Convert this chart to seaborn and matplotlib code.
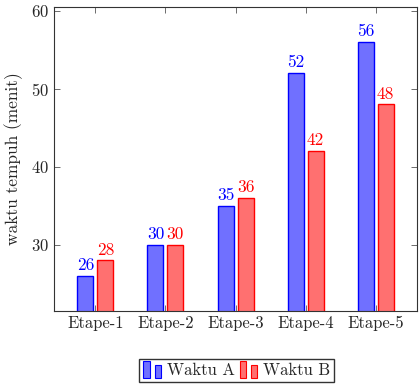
import pandas as pd
import matplotlib.pyplot as plt
import seaborn as sns
from matplotlib.patches import Rectangle
from matplotlib.legend_handler import HandlerBase

# data
etape = ['Etape-1', 'Etape-2', 'Etape-3', 'Etape-4', 'Etape-5']
waktu_a = [26, 30, 35, 52, 56]
waktu_b = [28, 30, 36, 42, 48]

df = pd.DataFrame({
    'etape': etape * 2,
    'waktu': waktu_a + waktu_b,
    'seri': ['Waktu A'] * 5 + ['Waktu B'] * 5,
})

sns.set_style('ticks')
plt.rcParams['font.family'] = ['cmr10', 'DejaVu Serif']
plt.rcParams['axes.formatter.use_mathtext'] = True
plt.rcParams['mathtext.fontset'] = 'cm'

fills = {'Waktu A': '#7070ff', 'Waktu B': '#ff7070'}
edges = ['#0000ff', '#ff0000']

fig = plt.figure(figsize=(4.2, 3.87), dpi=100)
ax = fig.add_axes([0.1286, 0.196, 0.8644, 0.786])

sns.barplot(data=df, x='etape', y='waktu', hue='seri', palette=fills,
            width=0.57, gap=0.2, saturation=1, legend=False, ax=ax)

for cont, ec in zip(ax.containers, edges):
    for p in cont:
        p.set_edgecolor(ec)
        p.set_linewidth(1.0)
    ax.bar_label(cont, color=ec, fontsize=12.5, padding=2)

ax.set_xlim(-0.59, 4.59)
ax.set_ylim(21.5, 60.5)
ax.set_yticks([30, 40, 50, 60])
ax.set_xlabel('')
ax.set_ylabel('waktu tempuh (menit)', fontsize=12.5, labelpad=6)
ax.tick_params(direction='in', top=True, right=True, length=4, width=0.6,
               color='#555555', labelsize=12)
for s in ax.spines.values():
    s.set_visible(True)
    s.set_color('#333333')
    s.set_linewidth(0.8)


class TwoBars(HandlerBase):
    def __init__(self, fc, ec):
        super().__init__()
        self.fc = fc
        self.ec = ec

    def create_artists(self, legend, orig_handle, xdescent, ydescent,
                       width, height, fontsize, trans):
        x0 = -xdescent
        y0 = -ydescent - 2
        bw = width * 0.33
        r1 = Rectangle((x0, y0), bw, height + 4, fc=self.fc, ec=self.ec,
                       lw=0.8, transform=trans)
        r2 = Rectangle((x0 + width * 0.62, y0), bw, height + 1, fc=self.fc,
                       ec=self.ec, lw=0.8, transform=trans)
        return [r1, r2]


ha = Rectangle((0, 0), 1, 1)
hb = Rectangle((0, 0), 1, 1)
fig.legend([ha, hb], ['Waktu A', 'Waktu B'], ncol=2, loc='center',
           bbox_to_anchor=(0.564, 0.043), fontsize=12, frameon=True,
           fancybox=False, edgecolor='#333333', framealpha=1,
           handlelength=1.1, handletextpad=0.3, columnspacing=0.3,
           borderpad=0.25,
           handler_map={ha: TwoBars('#7070ff', '#0000ff'),
                        hb: TwoBars('#ff7070', '#ff0000')})

fig.savefig('out.png', dpi=100)
